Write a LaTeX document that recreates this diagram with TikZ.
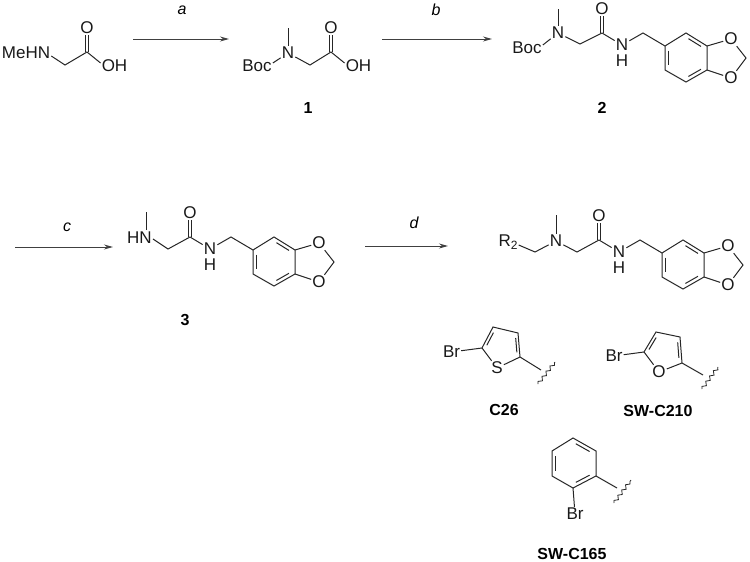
\documentclass[tikz,border=0pt]{standalone}
\usepackage{fontspec}
\setmainfont{Liberation Sans}
\usetikzlibrary{calc,decorations.pathmorphing,arrows.meta}
\tikzset{
  x=1pt,y=-1pt,
  bond/.style={line width=1pt,color=black!85},
  rxn/.style={line width=1pt,color=black!75,-{Stealth[length=9pt,width=5pt]}},
  atom/.style={inner sep=1pt,font=\fontsize{17}{17}\selectfont,text=black!90},
  cond/.style={inner sep=0pt,font=\fontsize{16}{16}\selectfont\itshape},
  cpd/.style={inner sep=0pt,font=\fontsize{16}{16}\selectfont\bfseries},
  wavy/.style={line width=0.8pt,color=black!85,decorate,decoration={snake,segment length=6.5pt,amplitude=1.6pt}}
}
\newcommand{\innerbond}[3]{\draw[bond] ($($(#1)!.14!(#2)$)!.17!(#3)$) -- ($($(#2)!.14!(#1)$)!.17!(#3)$);}
\newcommand{\carbonyl}[2]{%
  \draw[bond] ([xshift=-1.7pt]#1) -- ([xshift=-1.7pt]#2.south);
  \draw[bond] ([xshift=1.7pt]#1) -- ([xshift=1.7pt]#2.south);}
% amide + benzodioxole tail; origin = carbonyl carbon
\newcommand{\amidetail}[3]{%
\begin{scope}[shift={(#2,#3)}]
  \coordinate (#1c) at (0,0);
  \node[atom] (#1o) at (0,-24) {O};
  \node[atom] (#1n) at (20,12) {N};
  \node[atom] (#1h) at (20,28) {H};
  \coordinate (#1m) at (41,0);
  \coordinate (#1a) at (63,13);
  \coordinate (#1b) at (84,0);
  \coordinate (#1d) at (105,13);
  \coordinate (#1e) at (105,37);
  \coordinate (#1f) at (84,49);
  \coordinate (#1g) at (63,37);
  \coordinate (#1x) at (84,24.5);
  \node[atom] (#1p) at (129,6) {O};
  \node[atom] (#1q) at (129,45) {O};
  \coordinate (#1r) at (144,25);
  \carbonyl{#1c}{#1o}
  \draw[bond] (#1c) -- (#1n) (#1n) -- (#1m) -- (#1a) -- (#1b) -- (#1d) -- (#1e) -- (#1f) -- (#1g) -- (#1a);
  \draw[bond] (#1d) -- (#1p) (#1p) -- (#1r) -- (#1q) (#1q) -- (#1e);
  \innerbond{#1a}{#1g}{#1x}
  \innerbond{#1b}{#1d}{#1x}
  \innerbond{#1e}{#1f}{#1x}
\end{scope}}
\begin{document}
\begin{tikzpicture}
\useasboundingbox (0,0) rectangle (750,562);
% arrows
\coordinate (a1) at (133,39); \coordinate (a2) at (229,39);
\coordinate (b1) at (382,39); \coordinate (b2) at (492,39);
\coordinate (c1) at (15,247); \coordinate (c2) at (113,247);
\coordinate (d1) at (365,246); \coordinate (d2) at (448,246);
\draw[rxn] (a1) -- (a2);
\draw[rxn] (b1) -- (b2);
\draw[rxn] (c1) -- (c2);
\draw[rxn] (d1) -- (d2);
\node[cond] (la) at (182,10) {a};
\node[cond] (lb) at (436,10) {b};
\node[cond] (lc) at (67,227) {c};
\node[cond] (ld) at (414,223) {d};
% sarcosine
\node[atom] (s0) at (26,53) {MeHN};
\coordinate (s1) at (65,65);
\coordinate (s2) at (87,52);
\node[atom] (s3) at (87,28) {O};
\node[atom] (s4) at (114.5,66) {OH};
\draw[bond] ([yshift=-3pt]s0.east) -- (s1) -- (s2) -- ([yshift=3pt]s4.west);
\carbonyl{s2}{s3}
% 1
\node[atom] (b0) at (257,66) {Boc};
\node[atom] (n1) at (288,53) {N};
\coordinate (me1) at (288,28);
\coordinate (t1) at (310,65);
\coordinate (t2) at (331,52);
\node[atom] (t3) at (331,28) {O};
\node[atom] (t4) at (358.5,66) {OH};
\draw[bond] (me1) -- (n1);
\draw[bond] ([yshift=3pt]b0.east) -- (n1);
\draw[bond] (n1) -- (t1) -- (t2) -- ([yshift=3pt]t4.west);
\carbonyl{t2}{t3}
\node[cpd] (l1) at (308,108) {1};
% 2
\amidetail{u}{602}{33}
\node[atom] (b2x) at (527,48) {Boc};
\node[atom] (n2) at (558,33) {N};
\coordinate (me2) at (558,9);
\coordinate (ch2) at (580,44);
\draw[bond] (me2) -- (n2);
\draw[bond] ([yshift=3pt]b2x.east) -- (n2);
\draw[bond] (n2) -- (ch2) -- (uc);
\node[cpd] (l2) at (602,108) {2};
% 3
\amidetail{v}{190}{237}
\node[atom] (n3) at (139.5,238) {HN};
\coordinate (me3) at (146,212);
\coordinate (ch3) at (168,249);
\draw[bond] (me3) -- (146,229.5);
\draw[bond] ([yshift=-1pt]n3.east) -- (ch3) -- (vc);
\node[cpd] (l3) at (185,320) {3};
% general product
\amidetail{w}{599}{240}
\node[atom] (r2) at (508,242) {R\raisebox{-3.5pt}{\fontsize{12}{12}\selectfont 2}};
\coordinate (r3) at (535,252);
\node[atom] (n4) at (556,241) {N};
\coordinate (me4) at (556,215);
\coordinate (ch4) at (577,252);
\draw[bond] (me4) -- (n4);
\draw[bond] ([yshift=-3pt]r2.east) -- (r3) -- (n4);
\draw[bond] (n4) -- (ch4) -- (wc);
% C26
\node[atom] (br1) at (451.5,352) {Br};
\coordinate (e2) at (482,348);
\coordinate (e3) at (493,327);
\coordinate (e4) at (518,333);
\coordinate (e5) at (520,357);
\node[atom] (es) at (497,368) {S};
\coordinate (ex) at (503,346);
\coordinate (ea) at (541,370);
\coordinate (ew1) at (538,384);
\coordinate (ew2) at (555,362);
\draw[bond] (br1) -- (e2) -- (e3) -- (e4) -- (e5) -- (es) -- (e2);
\draw[bond] (e5) -- (ea);
\innerbond{e2}{e3}{ex}
\innerbond{e4}{e5}{ex}
\draw[wavy] (ew1) -- (ew2);
\node[cpd] (l4) at (504,410) {C26};
% SW-C210
\node[atom] (br2) at (614,356) {Br};
\coordinate (f2) at (644,352);
\coordinate (f3) at (656,332);
\coordinate (f4) at (680,337);
\coordinate (f5) at (682,363);
\node[atom] (fo) at (659,372) {O};
\coordinate (fx) at (665,351);
\coordinate (fa) at (703,375);
\coordinate (fw1) at (702,389);
\coordinate (fw2) at (718,367);
\draw[bond] (br2) -- (f2) -- (f3) -- (f4) -- (f5) -- (fo) -- (f2);
\draw[bond] (f5) -- (fa);
\innerbond{f2}{f3}{fx}
\innerbond{f4}{f5}{fx}
\draw[wavy] (fw1) -- (fw2);
\node[cpd] (l5) at (658,411) {SW-C210};
% SW-C165
\coordinate (g1) at (573,438);
\coordinate (g2) at (596,451);
\coordinate (g3) at (596,476);
\coordinate (g4) at (573,488);
\coordinate (g5) at (552,476);
\coordinate (g6) at (552,451);
\coordinate (gx) at (574,463);
\node[atom] (br3) at (575,514) {Br};
\coordinate (ga) at (617,488);
\coordinate (gw1) at (614,503);
\coordinate (gw2) at (631,480);
\draw[bond] (g1) -- (g2) -- (g3) -- (g4) -- (g5) -- (g6) -- cycle;
\draw[bond] (g4) -- (br3);
\draw[bond] (g3) -- (ga);
\innerbond{g1}{g2}{gx}
\innerbond{g3}{g4}{gx}
\innerbond{g5}{g6}{gx}
\draw[wavy] (gw1) -- (gw2);
\node[cpd] (l6) at (572,554) {SW-C165};
\end{tikzpicture}
\end{document}
